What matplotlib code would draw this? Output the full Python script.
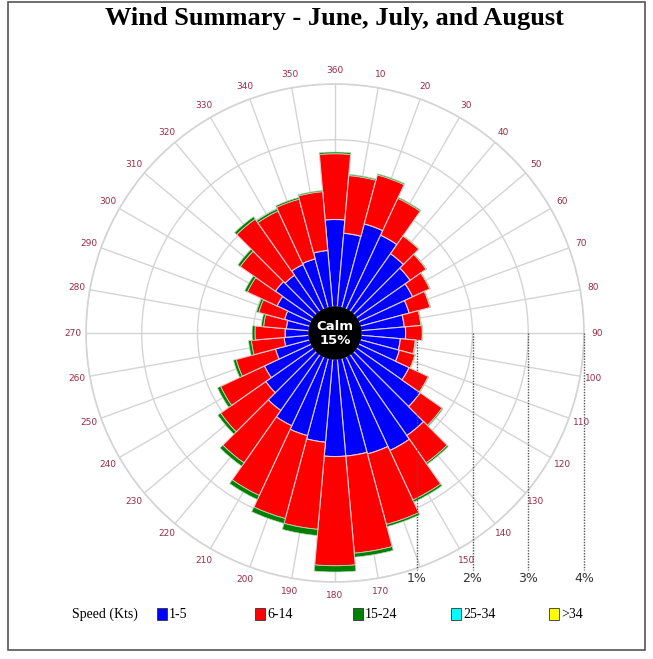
import matplotlib
matplotlib.use('Agg')
import matplotlib.pyplot as plt
from matplotlib.patches import Rectangle, Circle
import numpy as np

# wind directions (deg) and percent frequency by speed class
directions = np.arange(0, 360, 10)
speed_1_5 = [1.57, 1.33, 1.56, 1.47, 1.27, 1.18, 1.07, 0.91, 0.78, 0.80, 0.71, 0.73,
             1.00, 1.40, 1.78, 1.86, 1.78, 1.75, 1.75, 1.50, 1.44, 1.37, 1.23, 1.05,
             0.93, 0.64, 0.45, 0.43, 0.41, 0.47, 0.68, 0.84, 0.80, 0.89, 0.91, 1.02]
speed_6_14 = [1.18, 1.04, 0.91, 0.73, 0.39, 0.35, 0.34, 0.39, 0.30, 0.30, 0.27, 0.29,
              0.38, 0.48, 0.60, 0.98, 1.31, 1.75, 1.96, 1.57, 1.54, 1.38, 1.15, 0.99,
              0.87, 0.73, 0.59, 0.54, 0.41, 0.48, 0.59, 0.77, 1.23, 1.06, 1.11, 1.06]
speed_15_24 = [0.03, 0.02, 0.02, 0.02, 0.01, 0.01, 0.01, 0.01, 0.01, 0.01, 0.01, 0.01,
               0.01, 0.02, 0.03, 0.04, 0.04, 0.07, 0.11, 0.11, 0.09, 0.08, 0.07, 0.06,
               0.06, 0.05, 0.05, 0.05, 0.04, 0.04, 0.05, 0.05, 0.05, 0.04, 0.03, 0.02]
# 160 is hidden under the 1% marker in the original
dir_labels = ['360'] + ['' if d == 160 else str(d) for d in range(10, 360, 10)]
ring_values = [1, 2, 3, 4]
ring_labels = ['1%', '2%', '3%', '4%']
calm_pct = 15

legend_labels = ['1-5', '6-14', '15-24', '25-34', '>34']
legend_colors = ['#0000ff', '#ff0000', '#008000', '#00ffff', '#ffff00']

W, H = 653, 659
fig = plt.figure(figsize=(W / 100, H / 100), dpi=100)

# border
fig.add_artist(Rectangle((8 / W, 1 - 650 / H), 637 / W, 648 / H, transform=fig.transFigure,
                         fill=False, edgecolor='#555555', lw=1.2))

fig.text(334 / W, 1 - 19 / H, 'Wind Summary - June, July, and August', ha='center', va='center',
         fontsize=19, fontweight='bold', family='Liberation Serif')

cx, cy, R = 335, 333, 249
pos = [(cx - R) / W, (H - cy - R) / H, 2 * R / W, 2 * R / H]
rmax = 4.0
origin = 26 / ((R - 26) / rmax)

ax = fig.add_axes(pos, projection='polar')
ax.set_theta_zero_location('N')
ax.set_theta_direction(-1)
ax.set_rorigin(-origin)
ax.set_ylim(0, rmax)

theta = np.deg2rad(directions)
width = np.deg2rad(10)
b1 = np.array(speed_1_5)
b2 = np.array(speed_6_14)
b3 = np.array(speed_15_24)
ax.bar(theta, b1, width=width, bottom=0, color=legend_colors[0], edgecolor='#d9d0e8', lw=0.8, zorder=3)
ax.bar(theta, b2, width=width, bottom=b1, color=legend_colors[1], edgecolor='#eec8c8', lw=0.8, zorder=3)
ax.bar(theta, b3, width=width, bottom=b1 + b2, color=legend_colors[2], edgecolor='#b8d8b8', lw=0.5, zorder=3)

ax.set_thetagrids(directions, dir_labels, fontsize=6.5, color='#9b2c45')
ax.tick_params(axis='x', pad=-1)
ax.set_yticks(ring_values)
ax.set_yticklabels([])
ax.grid(True, color='#d4d4d4', lw=1)
ax.spines['polar'].set_color('#d4d4d4')
ax.spines['polar'].set_linewidth(1.2)
ax.set_axisbelow(True)

# overlay in the same units for calm circle and scale markers
ov = fig.add_axes(pos)
ext = rmax + origin
ov.set_xlim(-ext, ext)
ov.set_ylim(-ext, ext)
ov.axis('off')
ov.patch.set_alpha(0)
ov.add_patch(Circle((0, 0), origin, color='black', zorder=5))
ov.text(0, 0, 'Calm\n%d%%' % calm_pct, color='white', fontsize=9.5, fontweight='bold',
        ha='center', va='center', linespacing=1.1, zorder=6)
px = ext / R
for v, lab in zip(ring_values, ring_labels):
    x = v + origin
    ov.plot([x, x], [0, -(570 - cy) * px], ls=(0, (1, 1)), color='#555555', lw=1, clip_on=False)
    ov.text(x, -(578 - cy) * px, lab, ha='center', va='center', fontsize=9, color='#333333',
            clip_on=False)

# legend
fig.text(72 / W, 1 - 614 / H, 'Speed (Kts)', ha='left', va='center', fontsize=10,
         family='Liberation Serif')
box_x = [157, 255, 353, 451, 549]
for x, c, lab in zip(box_x, legend_colors, legend_labels):
    fig.add_artist(Rectangle((x / W, 1 - 620 / H), 10 / W, 12 / H, transform=fig.transFigure,
                             facecolor=c, edgecolor='#333333', lw=0.6))
    fig.text((x + 12) / W, 1 - 614 / H, lab, ha='left', va='center', fontsize=10,
             family='Liberation Serif')

fig.savefig('out.png', dpi=100)
